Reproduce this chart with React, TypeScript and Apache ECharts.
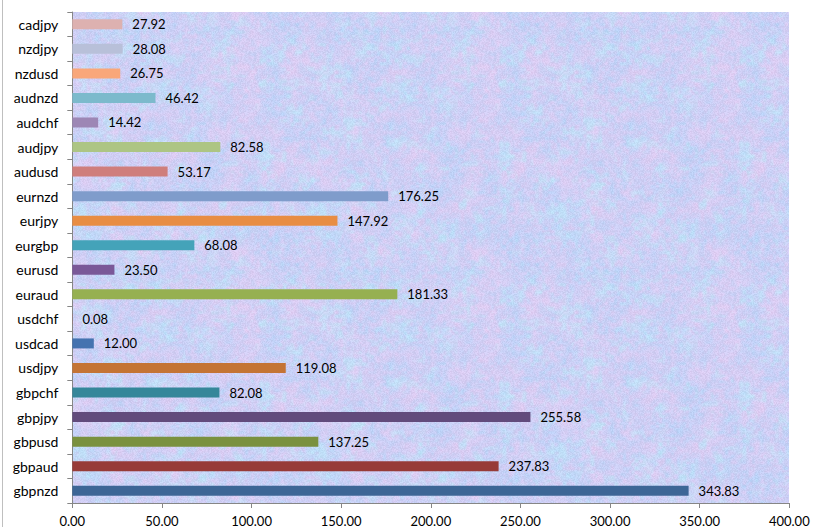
import React, { useEffect, useRef, useState } from "react";
import * as echarts from "echarts";

const categories = [
  "gbpnzd", "gbpaud", "gbpusd", "gbpjpy", "gbpchf", "usdjpy", "usdcad", "usdchf",
  "euraud", "eurusd", "eurgbp", "eurjpy", "eurnzd", "audusd", "audjpy", "audchf",
  "audnzd", "nzdusd", "nzdjpy", "cadjpy",
];
const values = [
  343.83, 237.83, 137.25, 255.58, 82.08, 119.08, 12.0, 0.08,
  181.33, 23.5, 68.08, 147.92, 176.25, 53.17, 82.58, 14.42,
  46.42, 26.75, 28.08, 27.92,
];
const barColors = [
  "#3D6696", "#973B38", "#7A913F", "#624B7C", "#35879A", "#C47434", "#4573B0", "#C0504D",
  "#96B051", "#7A5898", "#44A3B9", "#E88D43", "#7F9CCB", "#CF7E7C", "#ADC584", "#9D87B5",
  "#7CBACC", "#F9A77A", "#B8C0D9", "#DDB1B0",
];
const xTicks = [0, 50, 100, 150, 200, 250, 300, 350, 400];

const GRID = { left: 72.3, right: 25.7, top: 12, bottom: 22.7 };

// Decorative pastel texture (deterministic hash noise) for the plot background.
function makeTexture(): string {
  const size = 240;
  const c = document.createElement("canvas");
  c.width = size;
  c.height = size;
  const ctx = c.getContext("2d");
  if (!ctx) return "";
  const img = ctx.createImageData(size, size);
  const hash = (i: number, j: number, s: number) => {
    const v = Math.sin(i * 127.1 + j * 311.7 + s * 74.7) * 43758.5453;
    return v - Math.floor(v);
  };
  const noise = (x: number, y: number, cell: number, s: number) => {
    const period = size / cell;
    const gx = x / cell, gy = y / cell;
    const i0 = Math.floor(gx), j0 = Math.floor(gy);
    const fx = gx - i0, fy = gy - j0;
    const sx = fx * fx * (3 - 2 * fx), sy = fy * fy * (3 - 2 * fy);
    const w = (i: number) => ((i % period) + period) % period;
    const a = hash(w(i0), w(j0), s), b = hash(w(i0 + 1), w(j0), s);
    const cc = hash(w(i0), w(j0 + 1), s), d = hash(w(i0 + 1), w(j0 + 1), s);
    return (a + (b - a) * sx) * (1 - sy) + (cc + (d - cc) * sx) * sy;
  };
  const blue = [180, 212, 248];
  const pink = [228, 204, 242];
  const cyan = [186, 232, 248];
  const lav = [204, 204, 244];
  for (let y = 0; y < size; y++) {
    for (let x = 0; x < size; x++) {
      const n1 = Math.pow(0.5 * noise(x, y, 20, 1) + 0.5 * noise(x, y, 6, 2), 1.4);
      const n2 = 0.5 * noise(x, y, 12, 3) + 0.5 * noise(x, y, 4, 4);
      const n3 = noise(x, y, 3, 6);
      const g = (hash(x, y, 5) - 0.5) * 16;
      const k = (x + y * size) * 4;
      for (let ch = 0; ch < 3; ch++) {
        let v = blue[ch] + (lav[ch] - blue[ch]) * n3;
        v = v + (pink[ch] - v) * n1;
        v = v + (cyan[ch] - v) * Math.max(0, n2 - 0.5) * 1.6;
        img.data[k + ch] = Math.max(0, Math.min(255, v + g));
      }
      img.data[k + 3] = 255;
    }
  }
  ctx.putImageData(img, 0, 0);
  return c.toDataURL();
}

export default function App() {
  const ref = useRef<HTMLDivElement>(null);
  const [tex, setTex] = useState("");
  useEffect(() => {
    document.body.style.margin = "0";
    setTex(makeTexture());
    const chart = echarts.init(ref.current!, null, { renderer: "svg" });
    const font = "Lato, 'Noto Sans', sans-serif";
    chart.setOption({
      animation: false,
      backgroundColor: "transparent",
      grid: { ...GRID, containLabel: false, show: false },
      xAxis: {
        type: "value",
        min: xTicks[0],
        max: xTicks[xTicks.length - 1],
        interval: 50,
        axisLine: { show: true, lineStyle: { color: "#868686", width: 1 } },
        axisTick: { show: true, length: 5, lineStyle: { color: "#868686" } },
        splitLine: { show: false },
        axisLabel: {
          margin: 11,
          color: "#000000",
          fontFamily: font,
          fontSize: 13,
          formatter: (v: number) => v.toFixed(2),
        },
      },
      yAxis: {
        type: "category",
        data: categories,
        axisLine: { show: true, lineStyle: { color: "#868686", width: 1 } },
        axisTick: { show: true, length: 5, alignWithLabel: false, lineStyle: { color: "#868686" } },
        axisLabel: {
          margin: 14,
          color: "#000000",
          fontFamily: font,
          fontSize: 14,
        },
        splitLine: { show: false },
      },
      graphic: [
        {
          type: "line",
          shape: { x1: 2.5, y1: 0, x2: 2.5, y2: 527 },
          style: { stroke: "#BFBFBF", lineWidth: 1 },
        },
      ],
      series: [
        {
          type: "bar",
          barWidth: 10,
          data: values.map((v, i) => ({ value: v, itemStyle: { color: barColors[i] } })),
          label: {
            show: true,
            position: "right",
            distance: 10,
            color: "#000000",
            fontFamily: font,
            fontSize: 13,
            formatter: (p: any) => Number(p.value).toFixed(2),
          },
        },
      ],
    });
    return () => chart.dispose();
  }, []);
  return (
    <div style={{ position: "fixed", left: 0, top: 0, width: 815, height: 527, background: "#ffffff" }}>
      <div
        style={{
          position: "absolute",
          left: GRID.left,
          top: GRID.top,
          width: 815 - GRID.left - GRID.right,
          height: 527 - GRID.top - GRID.bottom,
          backgroundColor: "#C8D6F4",
          backgroundImage: tex ? `url(${tex})` : "none",
          backgroundRepeat: "repeat",
        }}
      />
      <div ref={ref} style={{ position: "absolute", left: 0, top: 0, width: 815, height: 527 }} />
    </div>
  );
}
